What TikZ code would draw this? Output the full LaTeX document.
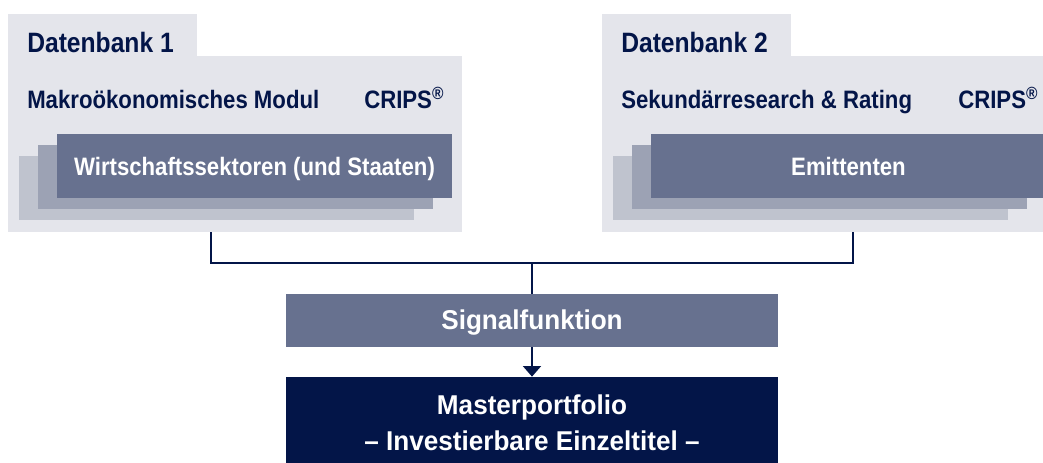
\documentclass[tikz,border=0pt]{standalone}
\usepackage{fontspec}
\setmainfont{Liberation Sans}[FakeStretch=0.88]
\newfontfamily\widefont{Liberation Sans}[FakeStretch=0.96]
\usetikzlibrary{arrows.meta}
\definecolor{panelc}{HTML}{E4E5EB}
\definecolor{frontc}{HTML}{67718F}
\definecolor{midc}{HTML}{9CA2B4}
\definecolor{backc}{HTML}{BFC3CE}
\definecolor{navy}{HTML}{031548}
\begin{document}
\begin{tikzpicture}[x=0.75pt,y=-0.75pt,
  box/.style={rectangle,inner sep=0pt,outer sep=0pt,draw=none},
  panel/.style={box,fill=panelc},
  frontbox/.style={box,fill=frontc},
  midbox/.style={box,fill=midc},
  backbox/.style={box,fill=backc},
  stackbox/.style={minimum width=296.25pt,minimum height=48pt},
  head/.style={inner sep=0pt,anchor=base west,text=navy,font=\fontsize{21}{25}\selectfont\bfseries},
  sub/.style={inner sep=0pt,anchor=base west,text=navy,font=\fontsize{18.9}{23}\selectfont\bfseries},
  wtxt/.style={inner sep=0pt,anchor=base,text=white,font=\fontsize{18.9}{23}\selectfont\bfseries},
  btxt/.style={inner sep=0pt,anchor=base,text=white,font=\widefont\fontsize{20.4}{24}\selectfont\bfseries},
  conn/.style={draw=navy,line width=1.5pt}]
\clip (0,0) rectangle (1043,462);
\useasboundingbox (0,0) rectangle (1043,462);
% left panel
\node[panel,minimum width=141.75pt,minimum height=31.6pt] (tab1) at (102.5,35) {};
\node[panel,minimum width=340.5pt,minimum height=132pt] (panel1) at (235,144) {};
\node[backbox,stackbox] (back1) at (216.5,188) {};
\node[midbox,stackbox] (mid1) at (235.5,177) {};
\node[frontbox,stackbox] (front1) at (254.5,166) {};
\node[head] (db1) at (27,52) {Datenbank 1};
\node[sub] (makro) at (27,108) {Makroökonomisches Modul};
\node[sub] (crips1) at (364,108) {CRIPS\textsuperscript{®}};
\node[wtxt] (wirt) at (254.5,175) {Wirtschaftssektoren (und Staaten)};
% right panel
\node[panel,minimum width=141.75pt,minimum height=31.6pt] (tab2) at (696.5,35) {};
\node[panel,minimum width=340.5pt,minimum height=132pt] (panel2) at (829,144) {};
\node[backbox,stackbox] (back2) at (810.5,188) {};
\node[midbox,stackbox] (mid2) at (829.5,177) {};
\node[frontbox,stackbox] (front2) at (848.5,166) {};
\node[head] (db2) at (621,52) {Datenbank 2};
\node[sub] (sek) at (621,108) {Sekundärresearch \& Rating};
\node[sub] (crips2) at (958,108) {CRIPS\textsuperscript{®}};
\node[wtxt] (emit) at (848.5,175) {Emittenten};
% bottom
\node[frontbox,minimum width=369pt,minimum height=39.75pt] (sig) at (532,320.5) {};
\node[btxt] (sigt) at (532,329) {Signalfunktion};
\node[box,fill=navy,minimum width=369pt,minimum height=65pt] (master) at (532,420) {};
\node[btxt] (mt1) at (532,414) {Masterportfolio};
\node[btxt] (mt2) at (532,450) {– Investierbare Einzeltitel –};
% connectors
\coordinate (l1) at (211,0);
\coordinate (r1) at (853,0);
\coordinate (j) at (532,263);
\draw[conn] (panel1.south -| l1) |- (j) -| (panel2.south -| r1);
\draw[conn] (j) -- (sig.north);
\draw[conn,-{Triangle[width=13.5pt,length=8pt]}] (sig.south) -- (master.north);
\end{tikzpicture}
\end{document}
